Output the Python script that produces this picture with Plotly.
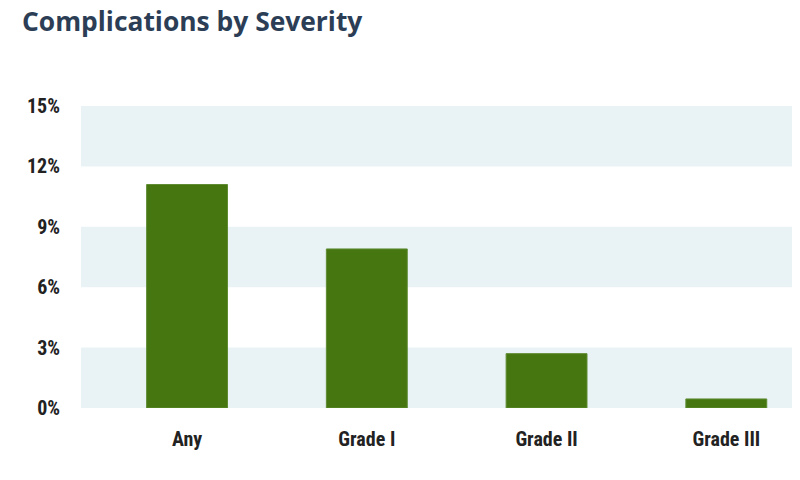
import plotly.graph_objects as go

categories = ["Any", "Grade I", "Grade II", "Grade III"]
rates = [11.1, 7.9, 2.7, 0.45]
tick_vals = [0, 3, 6, 9, 12, 15]
tick_text = ["0%", "3%", "6%", "9%", "12%", "15%"]
bands = [(0, 3), (6, 9), (12, 15)]

fig = go.Figure()
fig.add_trace(go.Bar(
    x=categories,
    y=rates,
    width=0.45,
    marker=dict(color="#46760f", line=dict(color="#5f8c33", width=1)),
    hoverinfo="x+y",
))

# shaded bands behind the bars
for y0, y1 in bands:
    fig.add_shape(type="rect", xref="paper", yref="y", x0=0, x1=1, y0=y0, y1=y1,
                  fillcolor="#e9f3f5", line=dict(width=0), layer="below")

tick_font = dict(family="Liberation Sans Narrow, Roboto Condensed, Arial Narrow, sans-serif",
                 size=20, color="#222222", weight="bold")

# page has an 8px body margin, so the figure is sized to fit inside the window
fig.update_layout(
    width=792, height=472,
    margin=dict(l=73, r=0, t=98, b=72),
    paper_bgcolor="white", plot_bgcolor="white",
    showlegend=False,
    title=dict(text="<b>Complications by Severity</b>", x=0.0177, xanchor="left",
               y=0.970, yanchor="middle",
               font=dict(family="Open Sans, sans-serif", size=26.4, color="#2c3e56")),
    xaxis=dict(range=[-0.59, 3.41], showgrid=False, zeroline=False, showline=False,
               ticks="", tickfont=tick_font, ticklabelstandoff=17),
    yaxis=dict(range=[0, 15], tickvals=tick_vals, ticktext=tick_text, showgrid=False,
               zeroline=False, showline=False, ticks="", tickfont=tick_font,
               ticklabelstandoff=20),
    bargap=0.55,
)

fig.write_html("out.html")
